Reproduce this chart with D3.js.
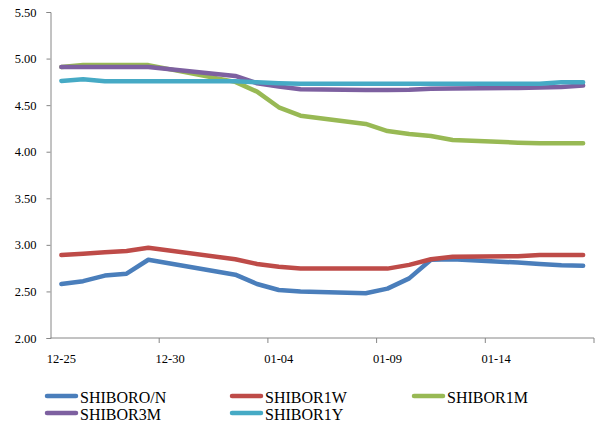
<!DOCTYPE html>
<html>
<head>
<meta charset="utf-8">
<script src="https://cdn.jsdelivr.net/npm/d3@7"></script>
<style>
  html, body { margin: 0; padding: 0; background: #fff; }
  svg { display: block; }
  svg text { font-family: "Liberation Serif", "Times New Roman", "DejaVu Serif", serif; fill: #000; }
</style>
</head>
<body>
<svg id="chart" width="595" height="425"></svg>
<script>
// Trading days with published fixings
const dates = [
  "2017-12-25", "2017-12-26", "2017-12-27", "2017-12-28", "2017-12-29",
  "2018-01-02", "2018-01-03", "2018-01-04", "2018-01-05",
  "2018-01-08", "2018-01-09", "2018-01-10", "2018-01-11", "2018-01-12",
  "2018-01-15", "2018-01-16", "2018-01-17", "2018-01-18"
];

// Rates (%) per tenor
const shiborON = [2.58, 2.61, 2.67, 2.69, 2.84, 2.68, 2.58, 2.515, 2.50, 2.48, 2.53, 2.64, 2.84, 2.845, 2.81, 2.795, 2.78, 2.775];
const shibor1W = [2.89, 2.905, 2.92, 2.935, 2.97, 2.845, 2.795, 2.765, 2.745, 2.745, 2.745, 2.785, 2.845, 2.873, 2.877, 2.89, 2.89, 2.89];
const shibor1M = [4.91, 4.93, 4.93, 4.93, 4.93, 4.75, 4.645, 4.477, 4.387, 4.298, 4.222, 4.19, 4.169, 4.126, 4.097, 4.09, 4.09, 4.09];
const shibor3M = [4.91, 4.91, 4.91, 4.91, 4.91, 4.813, 4.735, 4.70, 4.67, 4.663, 4.663, 4.665, 4.675, 4.678, 4.685, 4.69, 4.695, 4.71];
const shibor1Y = [4.76, 4.777, 4.756, 4.756, 4.756, 4.756, 4.745, 4.735, 4.73, 4.73, 4.73, 4.73, 4.73, 4.73, 4.73, 4.73, 4.745, 4.745];

const seriesNames = ["SHIBORO/N", "SHIBOR1W", "SHIBOR1M", "SHIBOR3M", "SHIBOR1Y"];
const seriesColors = ["#4A7EBB", "#BE4B48", "#98B954", "#7D60A0", "#46AAC5"];

const yTicks = [2.0, 2.5, 3.0, 3.5, 4.0, 4.5, 5.0, 5.5];
const xTickLabels = ["12-25", "12-30", "01-04", "01-09", "01-14"];

const parse = d3.timeParse("%Y-%m-%d");
const fmtDay = d3.timeFormat("%m-%d");
const obsDates = dates.map(parse);

// Calendar axis: one slot per day from first to last observation
const days = d3.timeDay.range(obsDates[0], d3.timeDay.offset(obsDates[obsDates.length - 1], 1));
const dayKeys = days.map(fmtDay);

const svg = d3.select("#chart");
const plotLeft = 50.5, plotRight = 594, plotTop = 12, plotBottom = 338;
const serif = "'Liberation Serif', 'Times New Roman', 'DejaVu Serif', serif";

const x = d3.scaleBand().domain(dayKeys).range([plotLeft, plotRight]).paddingInner(0).paddingOuter(0);
const y = d3.scaleLinear().domain([2, 5.5]).range([plotBottom, plotTop]);

const axisColor = "#868686";

// Y axis
const yAxis = svg.append("g")
  .attr("transform", `translate(${plotLeft},0)`)
  .call(d3.axisLeft(y).tickValues(yTicks).tickFormat(d3.format(".2f")).tickSize(4).tickPadding(10));
yAxis.attr("font-family", serif).attr("font-size", 12.5);
yAxis.select(".domain").attr("stroke", axisColor);
yAxis.selectAll(".tick line").attr("stroke", axisColor);
yAxis.selectAll(".tick text").attr("fill", "#000");

// X axis: line, tick marks at every 5th day boundary, labels centred in the slot
const xg = svg.append("g").attr("font-family", serif);
xg.append("line")
  .attr("x1", plotLeft).attr("x2", plotRight).attr("y1", plotBottom).attr("y2", plotBottom)
  .attr("stroke", axisColor);
const boundaries = d3.range(0, dayKeys.length + 1, 5).map(i => i < dayKeys.length ? x(dayKeys[i]) : plotRight);
xg.selectAll("line.tk").data(boundaries.slice(1)).join("line")
  .attr("class", "tk")
  .attr("x1", d => d).attr("x2", d => d)
  .attr("y1", plotBottom).attr("y2", plotBottom + 5)
  .attr("stroke", axisColor);
xg.selectAll("text").data(xTickLabels).join("text")
  .attr("x", d => x(d) + x.bandwidth() / 2)
  .attr("y", 363)
  .attr("text-anchor", "middle")
  .attr("font-size", 12.5)
  .text(d => d);

// Lines
const seriesValues = [shiborON, shibor1W, shibor1M, shibor3M, shibor1Y];
const line = d3.line()
  .x((d, i) => x(fmtDay(obsDates[i])) + x.bandwidth() / 2)
  .y(d => y(d));

svg.append("g").selectAll("path").data(seriesValues).join("path")
  .attr("d", d => line(d))
  .attr("fill", "none")
  .attr("stroke", (d, i) => seriesColors[i])
  .attr("stroke-width", 4.5)
  .attr("stroke-linejoin", "round")
  .attr("stroke-linecap", "round");

// Legend
const legendPos = [[46, 396], [231, 396], [413, 396], [46, 413], [231, 413]];
const lg = svg.append("g").attr("font-family", serif)
  .selectAll("g").data(seriesNames).join("g")
  .attr("transform", (d, i) => `translate(${legendPos[i][0]},${legendPos[i][1]})`);
lg.append("line")
  .attr("x1", 1).attr("x2", 30).attr("y1", 0).attr("y2", 0)
  .attr("stroke", (d, i) => seriesColors[i])
  .attr("stroke-width", 4.5)
  .attr("stroke-linecap", "round");
lg.append("text")
  .attr("x", 34).attr("y", 7)
  .attr("font-size", 16)
  .text(d => d);
</script>
</body>
</html>
